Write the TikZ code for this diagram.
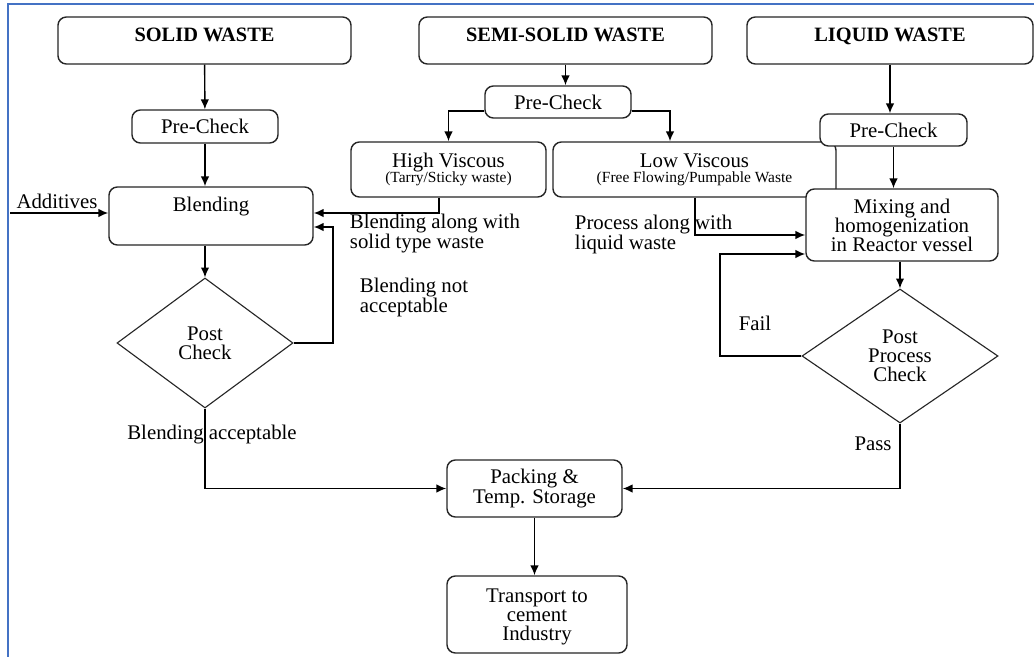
\documentclass[tikz,border=0pt]{standalone}
\usepackage{fontspec}
\setmainfont{Liberation Serif}
\newfontfamily\flowfont{Liberation Serif}
\usetikzlibrary{shapes.geometric,arrows.meta}

\definecolor{framecol}{RGB}{68,114,196}

\begin{document}
\begin{tikzpicture}[x=0.025cm,y=-0.025cm,
    every node/.style={font=\flowfont\fontsize{14.8}{13.6}\selectfont},
    box/.style={draw=black!85,line width=1pt,rounded corners=6pt,fill=white,align=center,inner sep=2pt},
    proc/.style 2 args={box,minimum width=#1,minimum height=#2},
    head/.style={proc={#1}{1.175cm},font=\flowfont\fontsize{14.5}{13.6}\selectfont\bfseries,text height=10pt,text depth=9pt},
    check/.style={diamond,draw=black!85,line width=0.8pt,fill=white,align=center,inner sep=0pt},
    arr/.style={line width=1pt,-{Latex[length=7pt,width=6pt]}},
    note/.style={align=left,anchor=west}]
    \useasboundingbox (0,0) rectangle (1034,657);
    % frame
    \draw[framecol,line width=1.5pt] (1034,4) -- (8,4) -- (8,657);

    % top row
    \node[head=7.325cm] (solid) at (204.5,40.5) {SOLID WASTE};
    \node[head=7.325cm] (semi) at (565.5,40.5) {SEMI-SOLID WASTE};
    \node[head=7.15cm] (liquid) at (890,40.5) {LIQUID WASTE};

    % solid branch
    \node[proc={3.65cm}{0.825cm}] (pre1) at (205,126.5) {Pre-Check};
    \node[proc={5.1cm}{1.45cm},text height=10pt,text depth=17pt] (blend) at (211,216) {Blending};
    \node[check,minimum width=4.4cm,minimum height=3.25cm] (post1) at (205,343) {Post\\Check};

    % semi-solid branch
    \node[proc={3.65cm}{0.8cm}] (pre2) at (558,102) {Pre-Check};
    \node[proc={4.875cm}{1.375cm}] (hv) at (448.5,169.5) {High Viscous\\[-3pt]{\fontsize{11}{11}\selectfont(Tarry/Sticky waste)}};
    \node[proc={7.075cm}{1.375cm}] (lv) at (694.5,169.5) {Low Viscous\\[-3pt]{\fontsize{11}{11}\selectfont(Free Flowing/Pumpable Waste}};

    % liquid branch
    \node[proc={3.675cm}{0.8cm}] (pre3) at (893.5,130) {Pre-Check};
    \node[proc={4.8cm}{1.8cm},text depth=0pt] (mix) at (902,225) {Mixing and\\homogenization\\in Reactor vessel};
    \node[check,minimum width=4.9cm,minimum height=3.35cm] (post2) at (900,356) {Post\\Process\\Check};

    % bottom
    \node[proc={4.375cm}{1.425cm}] (pack) at (534.5,488.5) {Packing \&\\Temp. Storage};
    \node[proc={4.5cm}{1.925cm},text depth=0pt] (trans) at (537,614.5) {Transport to\\cement\\Industry};

    % labels
    \node (addl) at (57,201) {Additives};
    \node[note] (bsl) at (345,233.5) {Blending along with\\solid type waste};
    \node[note] (bnl) at (355,297.5) {Blending not\\acceptable};
    \node (bal) at (212,435) {Blending acceptable};
    \node[note] (pll) at (570,234.5) {Process along with\\liquid waste};
    \node (faill) at (755,323) {Fail};
    \node (passl) at (873,444) {Pass};

    % helper points
    \coordinate (add) at (10,213);
    \coordinate (nfb) at (333,227);
    \coordinate (hvb) at (439,213);
    \coordinate (split) at (0,111);
    \coordinate (lvt) at (670,111);
    \coordinate (lvb) at (695,235);
    \coordinate (fl) at (720,254);

    % solid connectors
    \draw[arr] (solid) -- (pre1);
    \draw[arr] (pre1.south) -- (pre1.south |- blend.north);
    \draw[arr] (add) -- (add -| blend.west);
    \draw[arr] (post1.north |- blend.south) -- (post1.north);
    \draw[arr] (post1.east) -| (nfb) -- (nfb -| blend.east);
    \draw[arr] (post1.south) |- (pack.west);

    % semi-solid connectors
    \draw[arr] (semi.south) -- (semi.south |- pre2.north);
    \draw[arr] (pre2.west |- split) -| (hv.north);
    \draw[arr] (pre2.east |- split) -- (lvt) -- (lvt |- lv.north);
    \draw[arr] (hvb |- hv.south) -- (hvb) -- (hvb -| blend.east);
    \draw[arr] (lvb |- lv.south) -- (lvb) -- (lvb -| mix.west);

    % liquid connectors
    \draw[arr] (liquid.south) -- (liquid.south |- pre3.north);
    \draw[arr] (pre3.south) -- (pre3.south |- mix.north);
    \draw[arr] (post2.north |- mix.south) -- (post2.north);
    \draw[arr] (post2.west) -| (fl) -- (fl -| mix.west);
    \draw[arr] (post2.south) |- (pack.east);

    \draw[arr] (pack.south) -- (pack.south |- trans.north);
  \end{tikzpicture}
\end{document}
